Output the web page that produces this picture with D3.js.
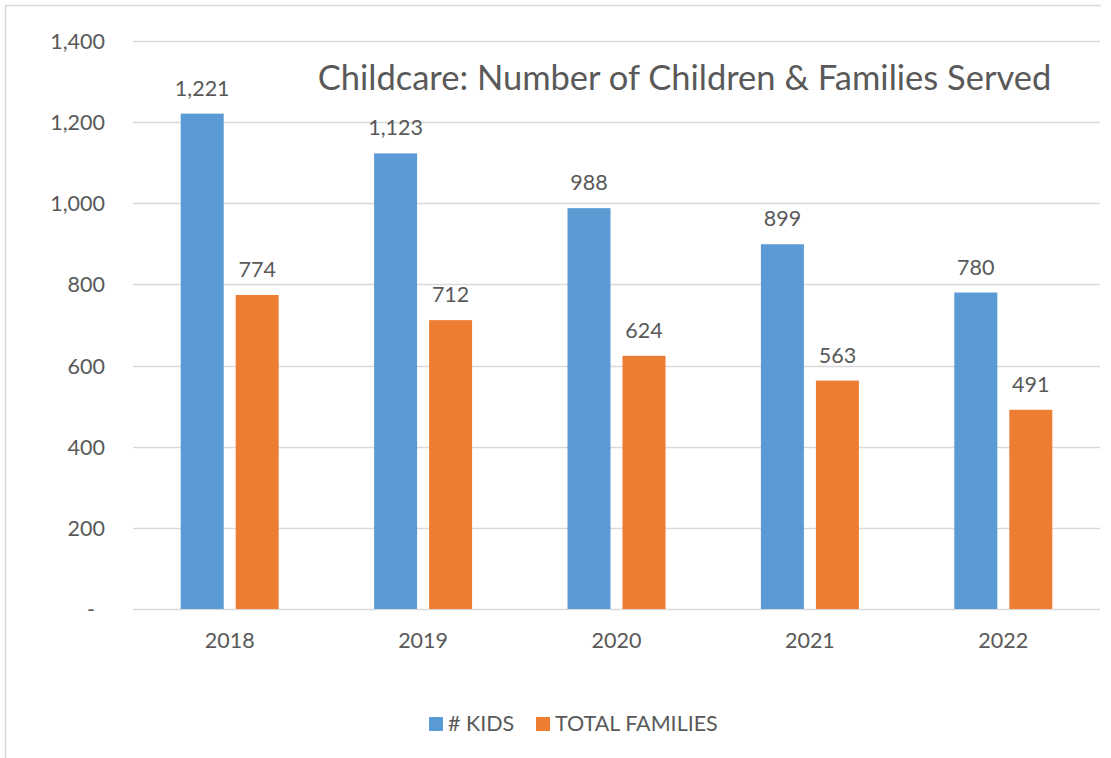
<!DOCTYPE html>
<html><head><meta charset="utf-8">
<script src="https://cdn.jsdelivr.net/npm/d3@7"></script>
<style>body{margin:0;background:#fff}svg{display:block}text{font-family:Lato,"Open Sans",sans-serif;fill:#595959}</style>
</head><body>
<script>
const years = ["2018","2019","2020","2021","2022"];
const kids = [1221,1123,988,899,780];
const families = [774,712,624,563,491];
const seriesNames = ["# KIDS","TOTAL FAMILIES"];
const colors = ["#5B9BD5","#ED7D31"];
const yTicks = [0,200,400,600,800,1000,1200,1400];
const title = "Childcare: Number of Children & Families Served";

const W=1111,H=758;
const svg=d3.select("body").append("svg").attr("width",W).attr("height",H);
// border
svg.append("path").attr("d","M5.5,760 L5.5,5.5 L1101,5.5").attr("fill","none").attr("stroke","#D9D9D9").attr("stroke-width",1.5);

const x0=d3.scaleBand().domain(years).range([133,1100]).paddingInner(0).paddingOuter(0);
const y=d3.scaleLinear().domain([0,1400]).range([609,41]);
const fmt=d3.format(",");

// gridlines
svg.append("g").selectAll("line").data(yTicks).join("line")
  .attr("x1",133).attr("x2",1100).attr("y1",d=>Math.round(y(d))+0.5).attr("y2",d=>Math.round(y(d))+0.5)
  .attr("stroke","#D9D9D9").attr("stroke-width",1.5);

// y tick labels
svg.append("g").selectAll("text").data(yTicks).join("text")
  .attr("x",d=>d===0?95:105).attr("y",d=>y(d)+8)
  .attr("text-anchor","end").attr("font-size",21.5)
  .text(d=>d===0?"-":fmt(d));

const barW=43, gap=12;
const data=[kids,families];
data.forEach((vals,si)=>{
  const off = si===0 ? -(gap/2+barW) : gap/2;
  svg.append("g").selectAll("rect").data(vals).join("rect")
    .attr("x",(d,i)=>x0(years[i])+x0.bandwidth()/2+off)
    .attr("width",barW)
    .attr("y",d=>y(d)).attr("height",d=>y(0)-y(d))
    .attr("fill",colors[si]);
  svg.append("g").selectAll("text").data(vals).join("text")
    .attr("x",(d,i)=>x0(years[i])+x0.bandwidth()/2+off+barW/2)
    .attr("y",d=>y(d)-18)
    .attr("text-anchor","middle").attr("font-size",21.5).attr("fill","#404040")
    .text(d=>fmt(d));
});

// x labels
svg.append("g").selectAll("text").data(years).join("text")
  .attr("x",d=>x0(d)+x0.bandwidth()/2).attr("y",648)
  .attr("text-anchor","middle").attr("font-size",21.5).text(d=>d);

// title
svg.append("text").attr("x",684.5).attr("y",90).attr("text-anchor","middle").attr("font-size",34.5).text(title);

// legend
const lg=svg.append("g");
const lx=[429,536];
seriesNames.forEach((n,i)=>{
  lg.append("rect").attr("x",lx[i]).attr("y",717).attr("width",14).attr("height",14).attr("fill",colors[i]);
  lg.append("text").attr("x",lx[i]+19).attr("y",731).attr("font-size",21.5).text(n);
});
</script>
</body></html>
